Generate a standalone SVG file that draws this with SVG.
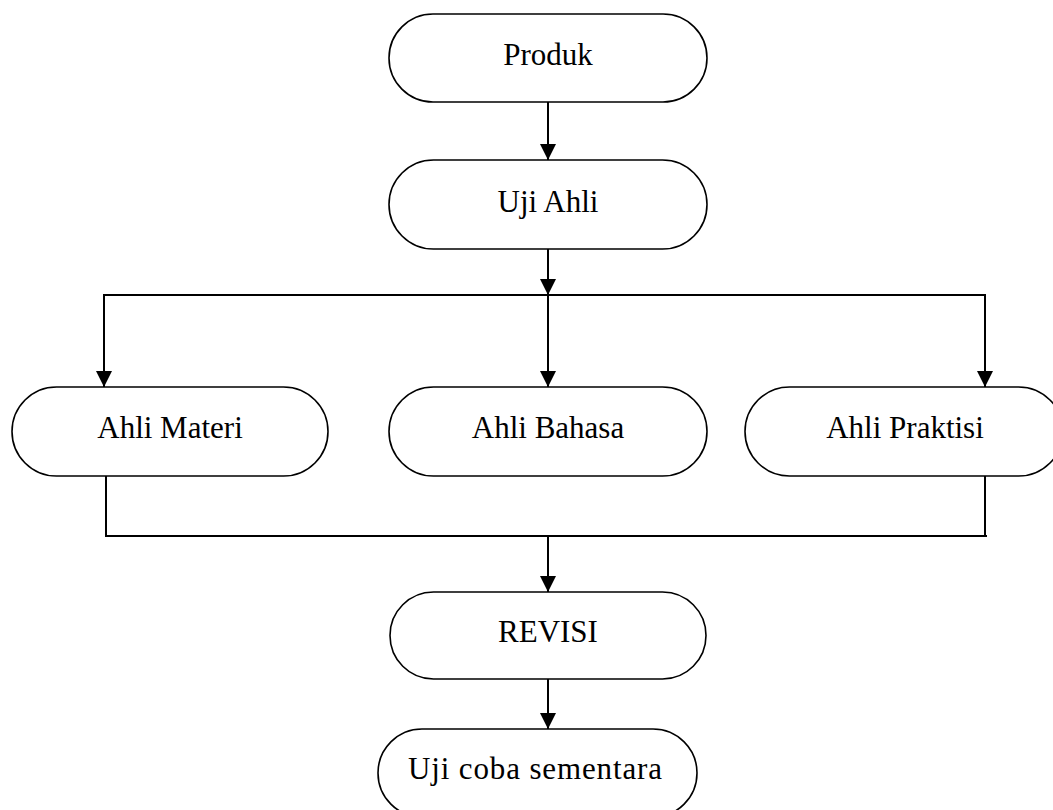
<svg xmlns="http://www.w3.org/2000/svg" width="1053" height="810" viewBox="0 0 1053 810">
<style>
.box{fill:#fff;stroke:#000;stroke-width:1.6}
.lbl{font-family:"Liberation Serif","Times New Roman",serif;font-size:31px;fill:#000;text-anchor:middle}
.ln{fill:none;stroke:#000;stroke-width:2}
</style>
<defs>
<marker id="ah" markerUnits="userSpaceOnUse" markerWidth="16" markerHeight="16" viewBox="0 0 16 16" refX="16" refY="8" orient="auto">
<path d="M0,0 L16,8 L0,16 z" fill="#000"/>
</marker>
</defs>
<rect width="1053" height="810" fill="#fff"/>
<g id="connectors">
<line class="ln" x1="548" y1="102" x2="548" y2="160" marker-end="url(#ah)"/>
<line class="ln" x1="548" y1="249" x2="548" y2="295" marker-end="url(#ah)"/>
<line class="ln" x1="103" y1="295" x2="986" y2="295"/>
<line class="ln" x1="104" y1="295" x2="104" y2="387" marker-end="url(#ah)"/>
<line class="ln" x1="548" y1="295" x2="548" y2="387" marker-end="url(#ah)"/>
<line class="ln" x1="985" y1="295" x2="985" y2="387" marker-end="url(#ah)"/>
<polyline class="ln" points="106,476 106,536 987,536"/>
<line class="ln" x1="985" y1="476" x2="985" y2="536"/>
<line class="ln" x1="548" y1="536" x2="548" y2="592" marker-end="url(#ah)"/>
<line class="ln" x1="548" y1="679" x2="548" y2="729" marker-end="url(#ah)"/>
</g>
<g id="produk">
<rect class="box" x="389" y="14" width="318" height="88" rx="44"/>
<text class="lbl" x="548" y="65">Produk</text>
</g>
<g id="uji-ahli">
<rect class="box" x="389" y="160" width="318" height="89" rx="44.5"/>
<text class="lbl" x="548" y="212">Uji Ahli</text>
</g>
<g id="ahli-materi">
<rect class="box" x="12" y="387" width="316" height="89" rx="44.5"/>
<text class="lbl" x="170" y="438">Ahli Materi</text>
</g>
<g id="ahli-bahasa">
<rect class="box" x="389" y="387" width="318" height="89" rx="44.5"/>
<text class="lbl" x="548" y="438">Ahli Bahasa</text>
</g>
<g id="ahli-praktisi">
<rect class="box" x="745" y="387" width="318" height="89" rx="44.5"/>
<text class="lbl" x="905" y="438">Ahli Praktisi</text>
</g>
<g id="revisi">
<rect class="box" x="390" y="592" width="316" height="87" rx="43.5"/>
<text class="lbl" x="548" y="642">REVISI</text>
</g>
<g id="uji-coba">
<rect class="box" x="378" y="729" width="319" height="88" rx="44"/>
<text class="lbl" x="535" y="779" textLength="254" lengthAdjust="spacing">Uji coba sementara</text>
</g>
</svg>
